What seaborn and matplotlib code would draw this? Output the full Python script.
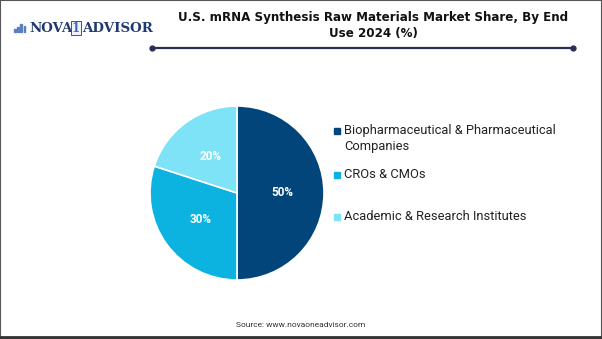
import matplotlib
matplotlib.use("Agg")
import matplotlib.pyplot as plt
import matplotlib.patches as mpatches
import seaborn as sns

sns.set_theme(style="white")
plt.rcParams['font.family'] = ['Roboto', 'DejaVu Sans']

# Market share by end use (%)
categories = ["Biopharmaceutical & Pharmaceutical\nCompanies", "CROs & CMOs",
              "Academic & Research Institutes"]
shares = [50, 30, 20]
colors = sns.color_palette(["#02457a", "#0cb3e0", "#7ee3f7"])

W, H = 602, 339
fig = plt.figure(figsize=(W / 100, H / 100), dpi=100)
fig.patch.set_facecolor("white")

def fx(x):
    return x / W

def fy(y):
    return 1 - y / H

# Pie
cx, cy, r = 237, 193, 87
ax = fig.add_axes([fx(cx - r), fy(cy + r), 2 * r / W, 2 * r / H])
wedges, texts = ax.pie(
    shares, colors=colors, startangle=90, counterclock=False,
    labels=[f"{v}%" for v in shares], labeldistance=0.52,
    wedgeprops=dict(edgecolor="white", linewidth=1.2),
    textprops=dict(color="white", fontsize=8.5, fontweight="bold"),
)
for t in texts:
    t.set_ha("center")
    t.set_va("center")
ax.set_xlim(-1, 1)
ax.set_ylim(-1, 1)
ax.set_aspect("equal")
ax.axis("off")

# Legend entries
leg_y = [131, 175, 217]
for lab, col, y in zip(categories, colors, leg_y):
    fig.patches.append(mpatches.Rectangle((fx(334), fy(y + 3)), 6 / W, 6 / H,
                                          transform=fig.transFigure, color=col))
    fig.text(fx(344), fy(y - 7), lab, ha="left", va="top", fontsize=9.3,
             color="#222222", linespacing=1.3)

# Title
title_font = dict(ha="center", va="center", fontsize=8.6, fontweight="bold",
                  color="#111111", family="DejaVu Sans")
fig.text(fx(373), fy(17), "U.S. mRNA Synthesis Raw Materials Market Share, By End", **title_font)
fig.text(fx(373), fy(34), "Use 2024 (%)", **title_font)
fig.add_artist(plt.Line2D([fx(152), fx(573)], [fy(48), fy(48)], transform=fig.transFigure,
                          color="#2b2d52", linewidth=1.6, marker="o", markersize=3.5))

# Logo
for i, h in enumerate([3, 5, 8, 6]):
    fig.patches.append(mpatches.Rectangle((fx(14 + i * 3.2), fy(32)), 1.8 / W, h / H,
                                          transform=fig.transFigure, color="#5a7fbf"))
logo_font = dict(va="center", fontsize=9.6, fontweight="bold",
                 family="DejaVu Serif", color="#1f3a6e")
fig.text(fx(29), fy(28), "NOVA", ha="left", **logo_font)
fig.text(fx(76), fy(28), "1", ha="center", va="center", fontsize=8.5, fontweight="bold",
         family="DejaVu Serif", color="#3f66b0",
         bbox=dict(boxstyle="square,pad=0.08", fc="#eef3fb", ec="#1f3a6e", lw=0.6))
fig.text(fx(82), fy(28), "ADVISOR", ha="left", **logo_font)

# Source
fig.text(fx(301), fy(325), "Source: www.novaoneadvisor.com", ha="center", va="center",
         fontsize=6, color="#333333")

# Frame
fig.add_artist(mpatches.Rectangle((0, 0), 1, 1, transform=fig.transFigure, fill=False,
                                  edgecolor="#555555", linewidth=1.5))
fig.add_artist(plt.Line2D([0, 1], [fy(337), fy(337)], transform=fig.transFigure,
                          color="#333333", linewidth=2))

fig.savefig("out.png", dpi=100)
